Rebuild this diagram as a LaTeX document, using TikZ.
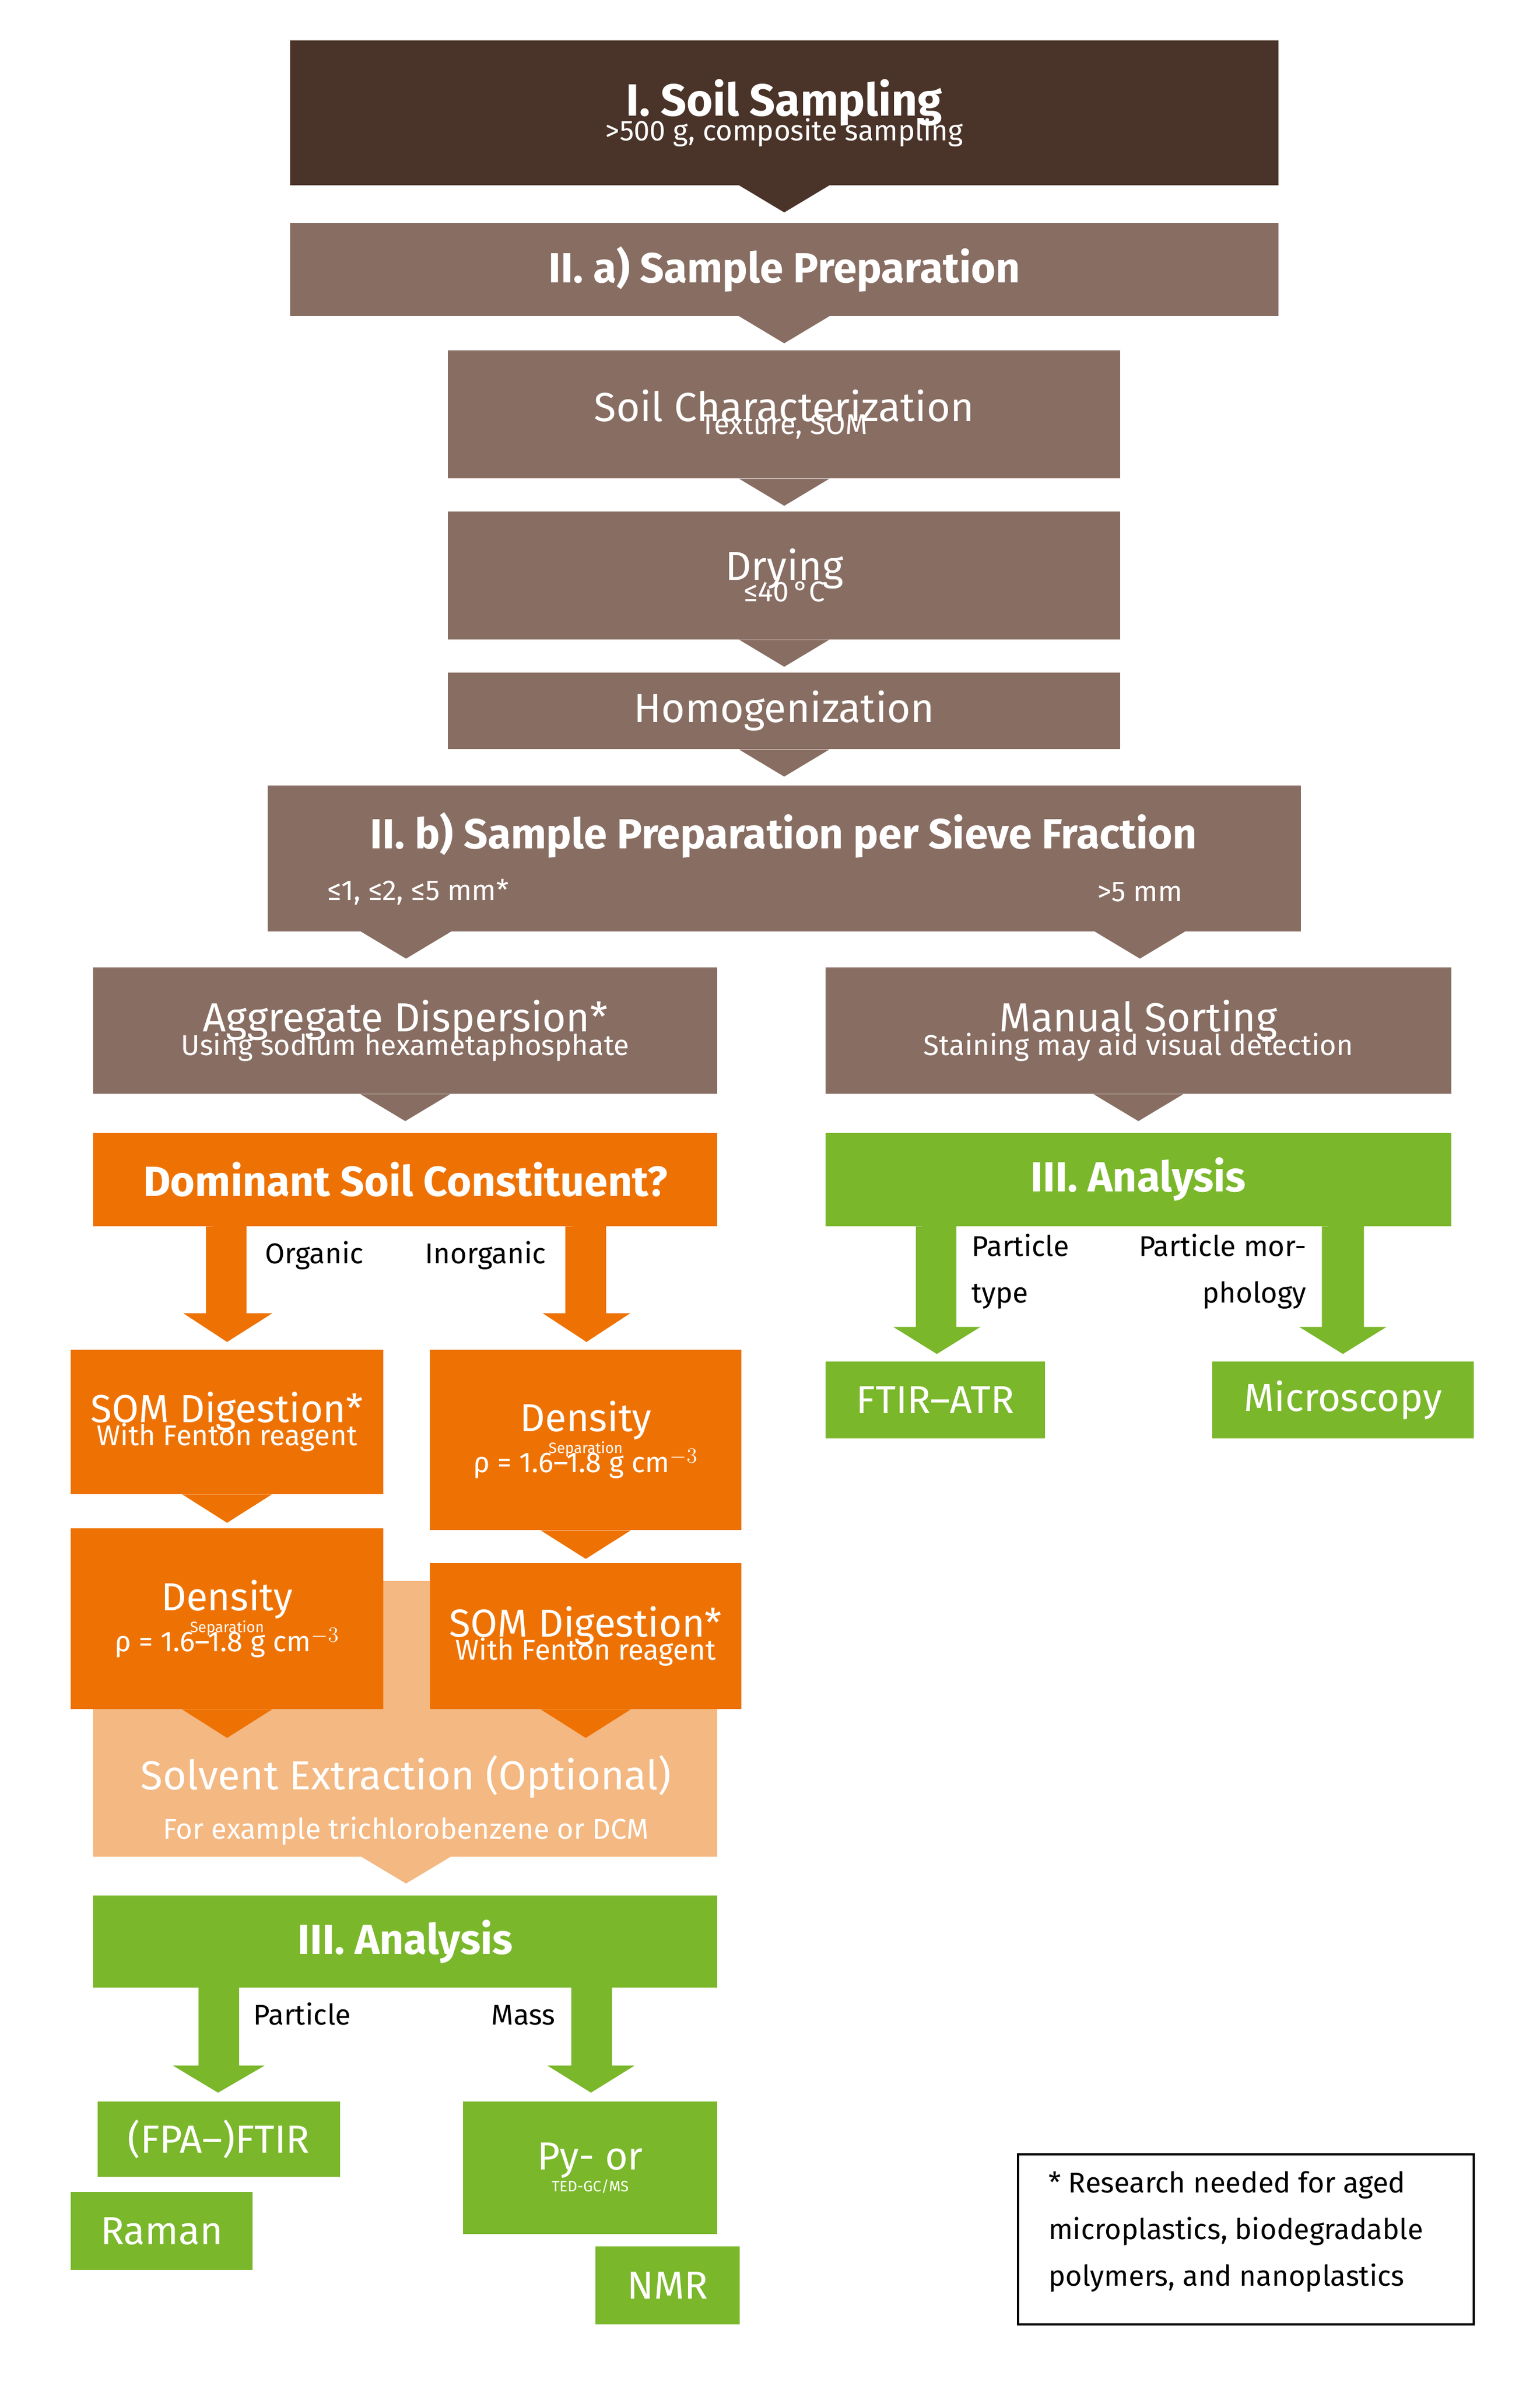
\documentclass[tikz,border=0pt]{standalone}
\usepackage{fontspec}
\setmainfont{Fira Sans}
\begin{document}
\begin{tikzpicture}[x=1pt,y=-1pt,
  bx/.style={inner sep=0pt,align=center,text=white},
  brown/.style={fill=brn},dark/.style={fill=drk},or/.style={fill=org},lo/.style={fill=lor},gr/.style={fill=grn},
  T/.style={font=\fontsize{28}{42}\selectfont},
  TB/.style={font=\bfseries\fontsize{28}{34}\selectfont},
  lab/.style={font=\fontsize{19}{31}\selectfont,inner sep=0pt}]
\definecolor{drk}{HTML}{4A3328}
\definecolor{brn}{HTML}{886D62}
\definecolor{org}{HTML}{EE7203}
\definecolor{lor}{HTML}{F4B882}
\definecolor{grn}{HTML}{7AB72B}
\useasboundingbox (0,0) rectangle (1024,1588);
\newcommand\mybox[7]{\fill[#6] (#2,#3) rectangle (#4,#5); \node[bx] (#1) at ({(#2+#4)/2},{(#3+#5)/2}) [minimum width={#4-#2},minimum height={#5-#3}] {#7};}
\newcommand\tri[5]{\fill[#5] ($(#1.south)+(#2-30,0)$) -- ++(60,0) -- ++(-30,#3) -- cycle;}
\newcommand\sub[1]{\\[-6pt]{\fontsize{19}{24}\selectfont #1}}
% Top chain
\mybox{s1}{193}{27}{850}{123}{dark}{\bfseries\fontsize{30}{34}\selectfont I. Soil Sampling\sub{\mdseries >500 g, composite sampling}}
\fill[drk] (s1.south) ++(-30,0) -- ++(60,0) -- ++(-30,18) -- cycle;
\mybox{s2a}{193}{148}{850}{210}{brown}{\bfseries\fontsize{28}{34}\selectfont II. a) Sample Preparation}
\fill[brn] (s2a.south) ++(-30,0) -- ++(60,0) -- ++(-30,18) -- cycle;
\mybox{sc}{298}{233}{745}{318}{brown}{\fontsize{27}{34}\selectfont Soil Characterization\sub{Texture, SOM}}
\fill[brn] (sc.south) ++(-30,0) -- ++(60,0) -- ++(-30,18) -- cycle;
\mybox{dr}{298}{340}{745}{425}{brown}{\fontsize{27}{34}\selectfont Drying\sub{≤40\,°C}}
\fill[brn] (dr.south) ++(-30,0) -- ++(60,0) -- ++(-30,18) -- cycle;
\mybox{ho}{298}{447}{745}{498}{brown}{\fontsize{27}{34}\selectfont Homogenization}
\fill[brn] (ho.south) ++(-30,0) -- ++(60,0) -- ++(-30,18) -- cycle;
\mybox{s2b}{178}{522}{865}{619}{brown}{}
\node[bx,font=\bfseries\fontsize{28}{34}\selectfont] (s2bt) at (521,555) {II. b) Sample Preparation per Sieve Fraction};
\node[bx,font=\fontsize{19}{24}\selectfont] (s2bl) at (278,593) {≤1, ≤2, ≤5 mm*};
\node[bx,font=\fontsize{19}{24}\selectfont] (s2br) at (758,593) {>5 mm};
\fill[brn] (s2b.south -| 270,0) ++(-30,0) -- ++(60,0) -- ++(-30,18) -- cycle;
\fill[brn] (s2b.south -| 758,0) ++(-30,0) -- ++(60,0) -- ++(-30,18) -- cycle;
% left branch
\mybox{ad}{62}{643}{477}{727}{brown}{\fontsize{27}{34}\selectfont Aggregate Dispersion*\sub{Using sodium hexametaphosphate}}
\fill[brn] (ad.south) ++(-30,0) -- ++(60,0) -- ++(-30,18) -- cycle;
\mybox{ms}{549}{643}{965}{727}{brown}{\fontsize{27}{34}\selectfont Manual Sorting\sub{Staining may aid visual detection}}
\fill[brn] (ms.south) ++(-30,0) -- ++(60,0) -- ++(-30,18) -- cycle;
\mybox{dom}{62}{753}{477}{815}{or}{\bfseries\fontsize{28}{34}\selectfont Dominant Soil Constituent?}
\mybox{somL}{47}{897}{255}{993}{or}{\fontsize{26}{34}\selectfont SOM Digestion*\sub{With Fenton reagent}}
\mybox{dsR}{286}{897}{493}{1017}{or}{\fontsize{26}{42}\selectfont Density\\Separation\sub{ρ = 1.6–1.8 g cm$^{-3}$}}
% big arrows from dom
\fill[org] (dom.south -| 137,0) -- (164,815) -- (164,873) -- (181,873) -- (151,892) -- (122,873) -- (137,873) -- cycle;
\fill[org] (dom.south -| 376,0) -- (403,815) -- (403,873) -- (419,873) -- (390,892) -- (361,873) -- (376,873) -- cycle;
\node[lab,anchor=base] (lo) at (209,840) {Organic};
\node[lab,anchor=base] (li) at (323,840) {Inorganic};
\fill[lor] (62,1051) rectangle (477,1234);
\node[bx] (se) at (270,1142) [minimum width=415,minimum height=183] {};
\node[bx,font=\fontsize{27}{34}\selectfont] (set) at (270,1181) {Solvent Extraction (Optional)};
\node[bx,font=\fontsize{19}{24}\selectfont] (ses) at (270,1217) {For example trichlorobenzene or DCM};
\fill[lor] (270,1234) ++(-30,0) -- ++(60,0) -- ++(-30,18) -- cycle;
\fill[org] (somL.south) ++(-30,0) -- ++(60,0) -- ++(-30,19) -- cycle;
\fill[org] (dsR.south) ++(-30,0) -- ++(60,0) -- ++(-30,19) -- cycle;
\mybox{dsL}{47}{1016}{255}{1136}{or}{\fontsize{26}{42}\selectfont Density\\Separation\sub{ρ = 1.6–1.8 g cm$^{-3}$}}
\mybox{somR}{286}{1039}{493}{1136}{or}{\fontsize{26}{34}\selectfont SOM Digestion*\sub{With Fenton reagent}}
\fill[org] (dsL.south) ++(-30,0) -- ++(60,0) -- ++(-30,19) -- cycle;
\fill[org] (somR.south) ++(-30,0) -- ++(60,0) -- ++(-30,19) -- cycle;
% analysis left
\mybox{anL}{62}{1260}{477}{1321}{gr}{\bfseries\fontsize{28}{34}\selectfont III. Analysis}
\fill[grn] (anL.south -| 132,0) -- (159,1321) -- (159,1373) -- (176,1373) -- (145,1391) -- (115,1373) -- (132,1373) -- cycle;
\fill[grn] (anL.south -| 380,0) -- (407,1321) -- (407,1373) -- (422,1373) -- (393,1391) -- (364,1373) -- (380,1373) -- cycle;
\node[lab,anchor=base] (lp) at (201,1346) {Particle};
\node[lab,anchor=base] (lm) at (348,1346) {Mass};
\mybox{ftir}{65}{1397}{226}{1447}{gr}{\fontsize{26}{34}\selectfont (FPA–)FTIR}
\mybox{ram}{47}{1457}{168}{1509}{gr}{\fontsize{26}{34}\selectfont Raman}
\mybox{py}{308}{1397}{477}{1485}{gr}{\fontsize{26}{42}\selectfont Py- or\\TED-GC/MS}
\mybox{nmr}{396}{1493}{492}{1545}{gr}{\fontsize{26}{34}\selectfont NMR}
% right analysis
\mybox{anR}{549}{753}{965}{815}{gr}{\bfseries\fontsize{28}{34}\selectfont III. Analysis}
\fill[grn] (anR.south -| 609,0) -- (636,815) -- (636,882) -- (652,882) -- (623,900) -- (594,882) -- (609,882) -- cycle;
\fill[grn] (anR.south -| 879,0) -- (907,815) -- (907,882) -- (922,882) -- (893,900) -- (864,882) -- (879,882) -- cycle;
\node[lab,anchor=north west,align=left] (lpt) at (646,820) {Particle\\type};
\node[lab,anchor=north east,align=right] (lpm) at (869,820) {Particle mor-\\phology};
\mybox{fa}{549}{905}{695}{956}{gr}{\fontsize{26}{34}\selectfont FTIR–ATR}
\mybox{mic}{806}{905}{980}{956}{gr}{\fontsize{26}{34}\selectfont Microscopy}
% note
\node[draw=black,line width=1.5pt,minimum width=303,minimum height=113,inner sep=0pt] (note) at (828.5,1488.5) {};
\node[lab,anchor=north west,align=left] (notet) at (697,1443) {* Research needed for aged\\microplastics, biodegradable\\polymers, and nanoplastics};
\end{tikzpicture}
\end{document}
